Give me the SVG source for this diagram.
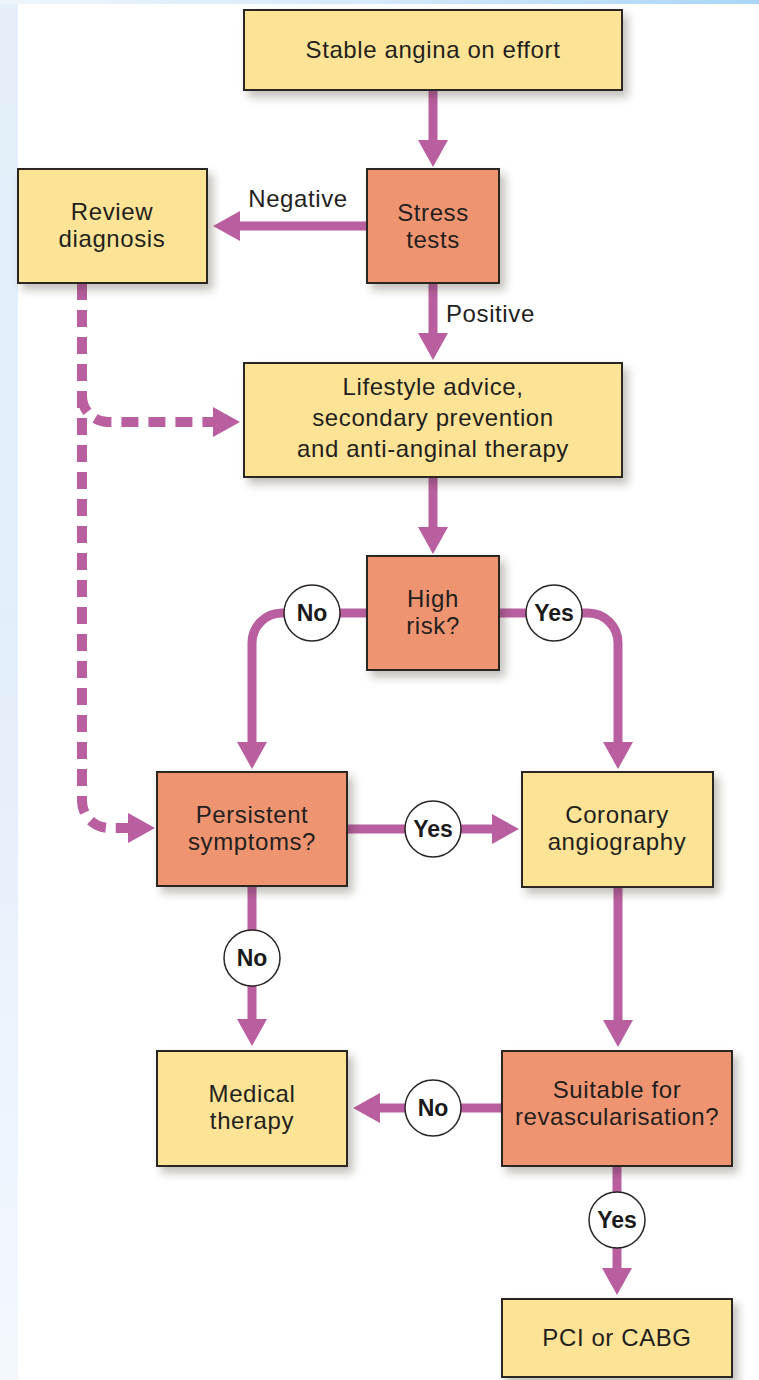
<svg xmlns="http://www.w3.org/2000/svg" width="759" height="1380" viewBox="0 0 759 1380">
<defs>
  <linearGradient id="topband" x1="0" y1="0" x2="1" y2="0">
    <stop offset="0" stop-color="#EEF5FC"/>
    <stop offset="0.5" stop-color="#D4E9FA"/>
    <stop offset="1" stop-color="#A9D6F7"/>
  </linearGradient>
  <linearGradient id="leftband" x1="0" y1="0" x2="0" y2="1">
    <stop offset="0" stop-color="#E4EFFA"/>
    <stop offset="0.45" stop-color="#E2EEFA"/>
    <stop offset="1" stop-color="#F4F8FD"/>
  </linearGradient>
  <filter id="shadow" x="-10%" y="-10%" width="130%" height="140%">
    <feDropShadow dx="5" dy="6" stdDeviation="4" flood-color="#3a2a20" flood-opacity="0.3"/>
  </filter>
  <marker id="head" viewBox="0 0 27 30" refX="1" refY="15" markerWidth="27" markerHeight="30" markerUnits="userSpaceOnUse" orient="auto">
    <path d="M0,0 L27,15 L0,30 z" fill="#B95FA0"/>
  </marker>
  <style>
    .box { stroke: #2a2522; stroke-width: 2; filter: url(#shadow); }
    .yellow { fill: #FDE395; }
    .orange { fill: #EF9471; }
    .t { font-family: "Liberation Sans", Arial, Helvetica, sans-serif; font-size: 24px; letter-spacing: 0.6px; fill: #231f1e; text-anchor: middle; }
    .lbl { font-family: "Liberation Sans", Arial, Helvetica, sans-serif; font-size: 24px; letter-spacing: 0.6px; fill: #231f1e; }
    .c { fill: #ffffff; stroke: #2a2522; stroke-width: 1.5; }
    .ct { font-family: "Liberation Sans", Arial, Helvetica, sans-serif; font-size: 23px; font-weight: bold; fill: #1a1a1a; text-anchor: middle; }
    .conn { fill: none; stroke: #B95FA0; stroke-width: 9; marker-end: url(#head); }
    .dash { fill: none; stroke: #B95FA0; stroke-width: 10; stroke-dasharray: 17 10; }
  </style>
</defs>

<!-- background -->
<rect x="0" y="0" width="759" height="1380" fill="url(#leftband)"/>
<rect x="0" y="0" width="759" height="4" fill="url(#topband)"/>
<rect x="18" y="4" width="741" height="1376" fill="#ffffff"/>

<!-- connectors -->
<g id="connectors">
  <path class="conn" d="M433,90 V141"/>
  <path class="conn" d="M367,226 H239"/>
  <path class="conn" d="M433,283 V334"/>
  <path class="conn" d="M433,477 V528"/>
  <path class="conn" d="M367,613 H282 A30,30 0 0 0 252,643 V743"/>
  <path class="conn" d="M499,613 H588 A30,30 0 0 1 618,643 V743"/>
  <path class="conn" d="M347,829 H493"/>
  <path class="conn" d="M252,886 V1020"/>
  <path class="conn" d="M618,887 V1021"/>
  <path class="conn" d="M502,1108 H379"/>
  <path class="conn" d="M617,1166 V1269"/>
  <path class="dash" d="M82,283 V801 A27,27 0 0 0 109,828 H129" marker-end="url(#head)"/>
  <path class="dash" d="M82,396 A26,26 0 0 0 108,422 H214" marker-end="url(#head)"/>
  <text class="lbl" x="298" y="207" text-anchor="middle">Negative</text>
  <text class="lbl" x="446" y="322">Positive</text>
</g>

<!-- nodes -->
<g id="stable-angina">
  <rect class="box yellow" x="244" y="10" width="378" height="80"/>
  <text class="t" x="433" y="58">Stable angina on effort</text>
</g>
<g id="stress-tests">
  <rect class="box orange" x="367" y="169" width="132" height="114"/>
  <text class="t" x="433" y="221">Stress</text>
  <text class="t" x="433" y="248">tests</text>
</g>
<g id="review-diagnosis">
  <rect class="box yellow" x="18" y="169" width="189" height="114"/>
  <text class="t" x="112" y="220">Review</text>
  <text class="t" x="112" y="247">diagnosis</text>
</g>
<g id="lifestyle">
  <rect class="box yellow" x="244" y="363" width="378" height="114"/>
  <text class="t" x="433" y="395">Lifestyle advice,</text>
  <text class="t" x="433" y="426">secondary prevention</text>
  <text class="t" x="433" y="457">and anti-anginal therapy</text>
</g>
<g id="high-risk">
  <rect class="box orange" x="367" y="556" width="132" height="114"/>
  <text class="t" x="433" y="607">High</text>
  <text class="t" x="433" y="634">risk?</text>
</g>
<g id="persistent-symptoms">
  <rect class="box orange" x="157" y="772" width="190" height="114"/>
  <text class="t" x="252" y="823">Persistent</text>
  <text class="t" x="252" y="850">symptoms?</text>
</g>
<g id="coronary-angiography">
  <rect class="box yellow" x="522" y="772" width="191" height="115"/>
  <text class="t" x="617" y="823">Coronary</text>
  <text class="t" x="617" y="850">angiography</text>
</g>
<g id="medical-therapy">
  <rect class="box yellow" x="157" y="1051" width="190" height="115"/>
  <text class="t" x="252" y="1102">Medical</text>
  <text class="t" x="252" y="1129">therapy</text>
</g>
<g id="suitable-revasc">
  <rect class="box orange" x="502" y="1051" width="230" height="115"/>
  <text class="t" x="617" y="1098">Suitable for</text>
  <text class="t" x="617" y="1125">revascularisation?</text>
</g>
<g id="pci-cabg">
  <rect class="box yellow" x="502" y="1299" width="230" height="78"/>
  <text class="t" x="617" y="1346">PCI or CABG</text>
</g>

<!-- decision labels -->
<g id="label-no-highrisk">
  <circle class="c" cx="312" cy="613" r="28"/>
  <text class="ct" x="312" y="621">No</text>
</g>
<g id="label-yes-highrisk">
  <circle class="c" cx="554" cy="613" r="28"/>
  <text class="ct" x="554" y="621">Yes</text>
</g>
<g id="label-yes-persistent">
  <circle class="c" cx="433" cy="829" r="28"/>
  <text class="ct" x="433" y="837">Yes</text>
</g>
<g id="label-no-persistent">
  <circle class="c" cx="252" cy="958" r="28"/>
  <text class="ct" x="252" y="966">No</text>
</g>
<g id="label-no-suitable">
  <circle class="c" cx="433" cy="1108" r="28"/>
  <text class="ct" x="433" y="1116">No</text>
</g>
<g id="label-yes-suitable">
  <circle class="c" cx="617" cy="1220" r="28"/>
  <text class="ct" x="617" y="1228">Yes</text>
</g>
</svg>
